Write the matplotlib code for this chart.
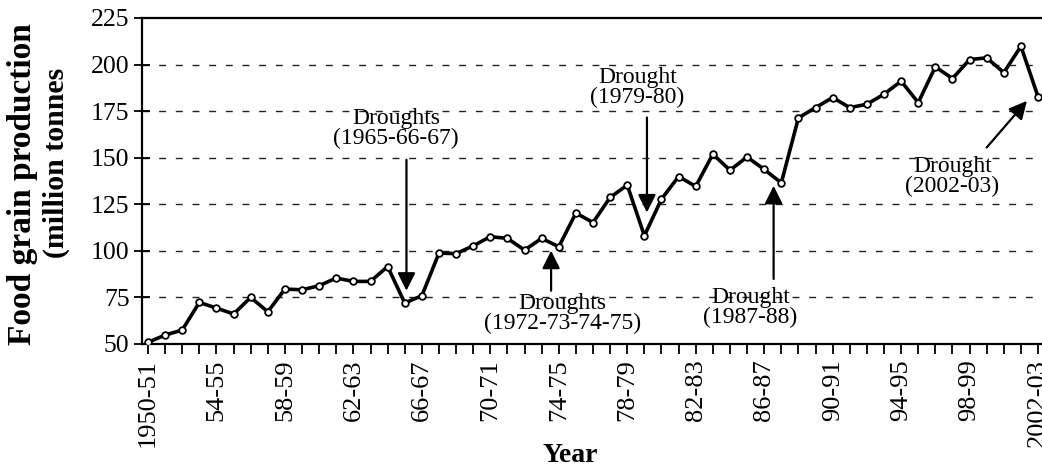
import matplotlib
matplotlib.use("Agg")
import matplotlib.pyplot as plt

plt.rcParams["font.family"] = ["Liberation Serif", "DejaVu Serif"]

# Food grain production, 1950-51 .. 2002-03 (million tonnes)
production = [
    50.9, 54.8, 57.5, 72.3, 69.3, 66.1, 75.0, 67.3, 79.5, 79.1,
    81.3, 85.4, 83.6, 83.6, 91.6, 72.0, 75.9, 98.8, 98.5, 102.7,
    107.6, 106.7, 100.4, 106.7, 102.2, 120.3, 115.2, 128.7, 135.3, 108.1,
    127.8, 139.9, 134.6, 151.9, 143.3, 150.4, 143.7, 136.5, 171.4, 176.9,
    182.3, 176.9, 178.7, 184.1, 191.1, 179.6, 198.8, 192.5, 202.7, 203.6,
    195.7, 209.8, 182.7,
]
tick_labels = ["1950-51", "54-55", "58-59", "62-63", "66-67", "70-71", "74-75",
               "78-79", "82-83", "86-87", "90-91", "94-95", "98-99", "2002-03"]
y_ticks = [50, 75, 100, 125, 150, 175, 200, 225]

# drought annotations: text, text centre, arrow tail, arrow tip (x = season index)
notes = ["Droughts\n(1965-66-67)", "Drought\n(1979-80)", "Droughts\n(1972-73-74-75)",
         "Drought\n(1987-88)", "Drought\n(2002-03)"]
note_xy = [(14.5, 165.8), (28.6, 187.7), (24.2, 66.3), (35.2, 69.4), (47.0, 139.8)]
arrow_from = [(15.1, 148.9), (29.15, 171.6), (23.55, 78.6), (36.55, 84.9), (49.0, 155.5)]
arrow_to = [(15.1, 78.6), (29.15, 120.6), (23.55, 100.1), (36.55, 134.9), (51.35, 180.5)]

fig = plt.figure(figsize=(10.42, 4.70), dpi=100)
ax = fig.add_axes([142 / 1042, 126 / 470, 900 / 1042, 326 / 470])

x = list(range(len(production)))
ax.plot(x, production, color="black", lw=2.6, marker="o", ms=4.8,
        mfc="white", mec="black", mew=1.3, zorder=3)

for v in y_ticks[1:-1]:
    ax.axhline(v, color="#222222", lw=1.0, ls=(0, (5, 7)), zorder=1)

ax.set_xlim(-0.35, 52.23)
ax.set_ylim(50, 225)
ax.set_yticks(y_ticks)
ax.set_xticks(x)
ax.set_xticklabels([tick_labels[i // 4] if i % 4 == 0 else "" for i in x],
                   rotation=90, fontsize=19)
ax.tick_params(axis="x", direction="out", length=7, width=1.3, pad=4)
ax.tick_params(axis="y", direction="inout", length=12, width=1.3, pad=3,
               labelsize=18.5)
for side in ["left", "bottom", "top"]:
    ax.spines[side].set_linewidth(1.6)
ax.spines["right"].set_visible(False)

ax.set_xlabel("Year", fontsize=20, fontweight="bold")
ax.xaxis.set_label_coords(0.4756, -0.305)
fig.text(23 / 1042, 1 - 184 / 470, "Food grain production", rotation=90,
         fontsize=24, fontweight="bold", ha="center", va="center")
fig.text(56 / 1042, 1 - 258 / 470, "(million tonnes", rotation=90,
         fontsize=21.5, fontweight="bold", ha="center", va="bottom")

for txt, xy, a, b in zip(notes, note_xy, arrow_from, arrow_to):
    ax.text(xy[0], xy[1], txt, ha="center", va="center", fontsize=17,
            linespacing=0.92, zorder=4)
    ax.annotate("", xy=b, xytext=a,
                arrowprops=dict(arrowstyle="-|>,head_length=0.6,head_width=0.3",
                                color="black", lw=1.6, mutation_scale=18,
                                shrinkA=0, shrinkB=0), zorder=4)

fig.savefig("out.png", dpi=100, facecolor="white")
